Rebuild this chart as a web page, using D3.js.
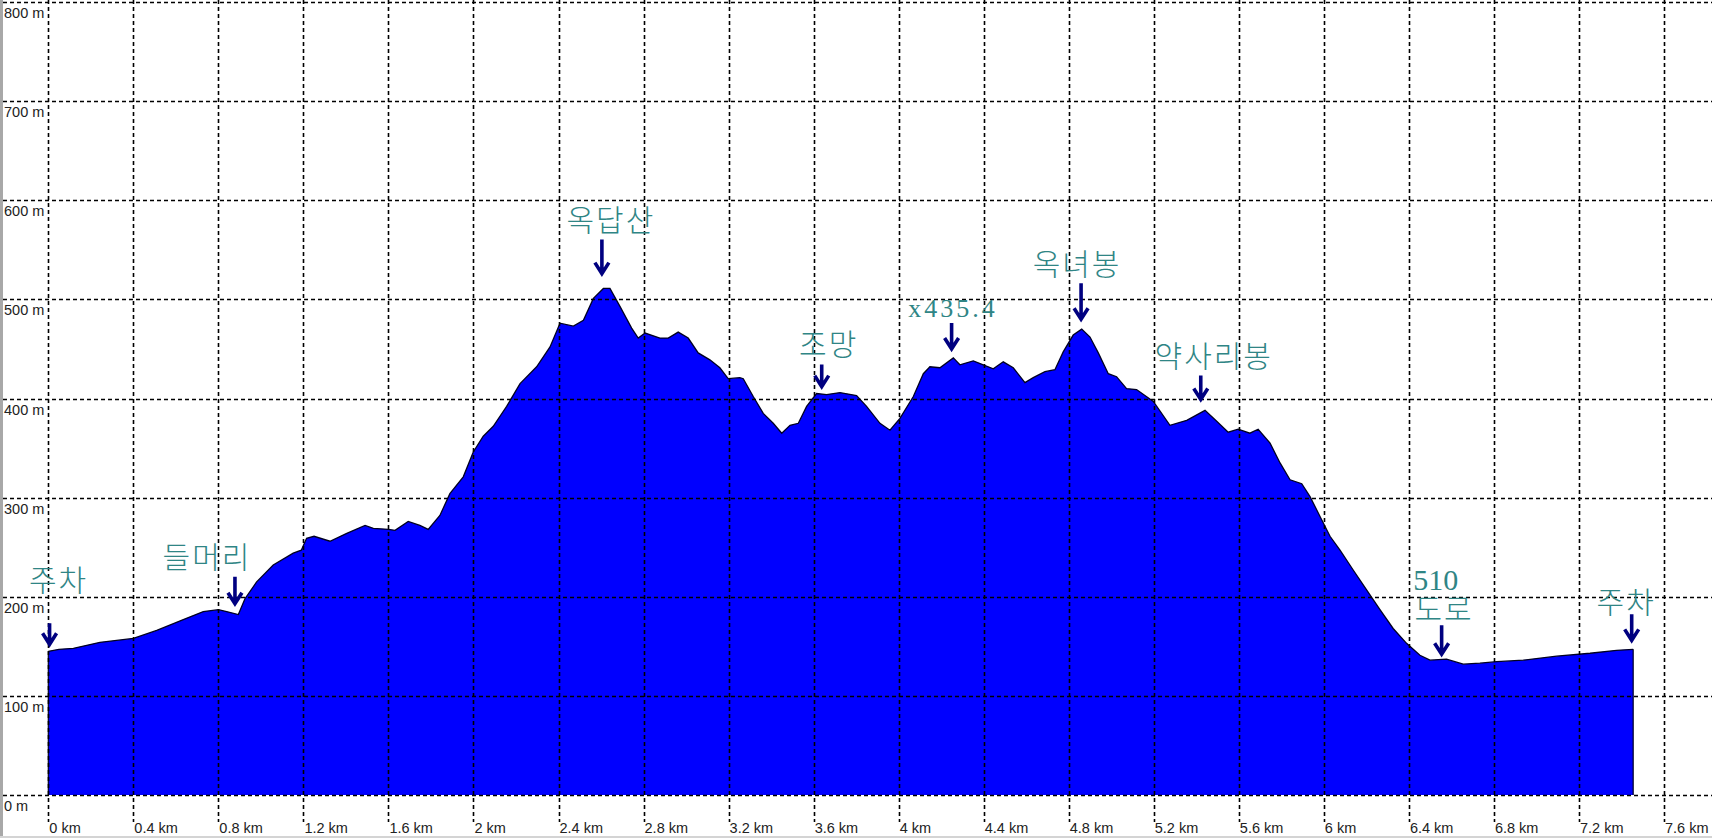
<!DOCTYPE html>
<html><head><meta charset="utf-8">
<script src="https://cdn.jsdelivr.net/npm/d3@7"></script>
<style>html,body{margin:0;padding:0;background:#fff;overflow:hidden}</style>
</head><body>
<svg id="chart" width="1712" height="838"></svg>
<script>
// ---- data ----
const distanceKm = [0.000,0.050,0.118,0.243,0.400,0.510,0.635,0.729,0.800,0.839,0.894,0.925,0.980,1.058,1.152,1.190,1.215,1.250,1.325,1.404,1.490,1.529,1.600,1.631,1.693,1.748,1.787,1.842,1.889,1.952,1.999,2.046,2.093,2.156,2.219,2.297,2.360,2.407,2.470,2.517,2.564,2.611,2.642,2.689,2.744,2.775,2.807,2.877,2.916,2.963,3.010,3.057,3.112,3.159,3.198,3.253,3.269,3.316,3.363,3.410,3.450,3.489,3.528,3.567,3.614,3.661,3.724,3.802,3.849,3.912,3.959,4.006,4.069,4.116,4.147,4.194,4.257,4.288,4.351,4.398,4.445,4.492,4.539,4.594,4.633,4.688,4.735,4.774,4.821,4.861,4.900,4.939,4.986,5.025,5.072,5.119,5.198,5.276,5.355,5.441,5.496,5.550,5.597,5.652,5.691,5.747,5.794,5.841,5.896,5.935,5.982,6.029,6.076,6.138,6.201,6.264,6.326,6.389,6.452,6.499,6.577,6.656,6.734,6.813,6.938,7.095,7.252,7.377,7.455];
const elevationM = [145,147,148,154,158,166,177,185,187,185,182,198,215,232,244,247,259,261,256,264,272,269,268,267,276,272,268,282,304,321,346,362,372,392,415,432,452,476,473,479,501,511,511,493,471,461,466,461,461,467,461,446,439,431,420,421,420,402,385,375,365,373,375,392,405,404,406,403,392,375,368,380,402,425,432,431,441,434,438,434,430,437,431,416,421,427,429,447,464,470,462,446,425,422,410,409,397,373,378,388,377,366,369,365,369,355,335,318,314,301,281,261,247,227,207,187,168,153,141,136,137,132,133,134.5,136,140,143,146,147];
const xTickKm = [0,0.4,0.8,1.2,1.6,2,2.4,2.8,3.2,3.6,4,4.4,4.8,5.2,5.6,6,6.4,6.8,7.2,7.6];
const yTickM = [0,100,200,300,400,500,600,700,800];
const xTickLabels = ["0 km","0.4 km","0.8 km","1.2 km","1.6 km","2 km","2.4 km","2.8 km","3.2 km","3.6 km","4 km","4.4 km","4.8 km","5.2 km","5.6 km","6 km","6.4 km","6.8 km","7.2 km","7.6 km"];
const yTickLabels = ["0 m","100 m","200 m","300 m","400 m","500 m","600 m","700 m","800 m"];
const markerLabels = [["주차"],["들머리"],["옥답산"],["조망"],["x435.4"],["옥녀봉"],["약사리봉"],["510","도로"],["주차"]];
const markerKm = [0.006,0.878,2.604,3.638,4.249,4.858,5.421,6.554,7.448];
const markerTipM = [151,192,525,411,449,479,398,141,155];

// ---- layout (pixels) ----
const W = 1712, H = 838;
const arrowLen = [22,28,35,23,27,37,25,30,27];
const textDx = [[8],[-29],[8],[6],[0],[-5],[12],[-6,1.5],[-6.5]];
const textDy = [[-32],[-9],[-9],[-10],[-6],[-8],[-8],[-35,-5],[-1]];

const svg = d3.select("#chart");
const x = d3.scaleLinear().domain([0,7.6]).range([48.3,1664]);
const y = d3.scaleLinear().domain([0,800]).range([795,2]);

const pts = distanceKm.map((d,i)=>[d,elevationM[i]]);

// area
svg.append("path").datum(pts)
  .attr("d", d3.area().x(d=>x(d[0])).y0(y(0)).y1(d=>y(d[1])))
  .attr("fill","#0000ff");
svg.append("path").datum(pts)
  .attr("d", d3.line().x(d=>x(d[0])).y(d=>y(d[1])))
  .attr("fill","none").attr("stroke","#000022").attr("stroke-width",1.3);
svg.append("line").attr("x1",x(distanceKm[0])).attr("x2",x(distanceKm[0]))
  .attr("y1",y(0)).attr("y2",y(elevationM[0])).attr("stroke","#000022").attr("stroke-width",1.2);
svg.append("line").attr("x1",x(distanceKm[distanceKm.length-1])).attr("x2",x(distanceKm[distanceKm.length-1]))
  .attr("y1",y(0)).attr("y2",y(elevationM[elevationM.length-1])).attr("stroke","#000022").attr("stroke-width",1.2);

// gridlines
const grid = svg.append("g").attr("stroke","#000").attr("stroke-width",1.6).attr("stroke-dasharray","4,3");
grid.selectAll("line.h").data(yTickM).join("line").attr("class","h")
  .attr("x1",3).attr("x2",W).attr("y1",d=>Math.round(y(d))+0.5).attr("y2",d=>Math.round(y(d))+0.5);
grid.selectAll("line.v").data(xTickKm).join("line").attr("class","v")
  .attr("x1",d=>Math.round(x(d))+0.5).attr("x2",d=>Math.round(x(d))+0.5).attr("y1",0).attr("y2",822);

// axis labels
svg.append("g").selectAll("text").data(yTickM).join("text")
  .attr("x",4).attr("y",d=>y(d)+16)
  .attr("font-family","'Liberation Sans', Arial, sans-serif").attr("font-size",14.5).attr("fill","#222")
  .text((d,i)=>yTickLabels[i]);
svg.append("g").selectAll("text").data(xTickKm).join("text")
  .attr("x",d=>x(d)+1).attr("y",833)
  .attr("font-family","'Liberation Sans', Arial, sans-serif").attr("font-size",14.5).attr("fill","#222")
  .text((d,i)=>xTickLabels[i]);

// frame
svg.append("rect").attr("x",0).attr("y",0).attr("width",3).attr("height",H).attr("fill","#a8a8a8");
svg.append("rect").attr("x",0).attr("y",H-2).attr("width",W).attr("height",2).attr("fill","#d4d4d4");

// markers
const mk = svg.append("g");
markerKm.forEach((km,i)=>{
  const ax = x(km), tip = y(markerTipM[i]), top = tip - arrowLen[i];
  mk.append("path")
    .attr("d",`M${ax},${top}L${ax},${tip-1}M${ax-7},${tip-12}L${ax},${tip-1}L${ax+7},${tip-12}`)
    .attr("fill","none").attr("stroke","#000080").attr("stroke-width",3.6).attr("stroke-linejoin","miter");
  markerLabels[i].forEach((line,j)=>{
    const latin = /^[0-9x.]+$/.test(line);
    const ls = latin ? (line.length>3?3:0) : 2;
    mk.append("text")
      .attr("x",ax+textDx[i][j]+ls/2).attr("y",top+textDy[i][j])
      .attr("text-anchor","middle")
      .attr("font-family","'Liberation Serif','Noto Sans CJK KR',serif")
      .attr("font-weight",latin?400:300)
      .attr("font-size",latin?(line.length>3?26:30):30)
      .attr("letter-spacing",ls)
      .attr("fill","#2f8585")
      .text(line);
  });
});
</script>
</body></html>
